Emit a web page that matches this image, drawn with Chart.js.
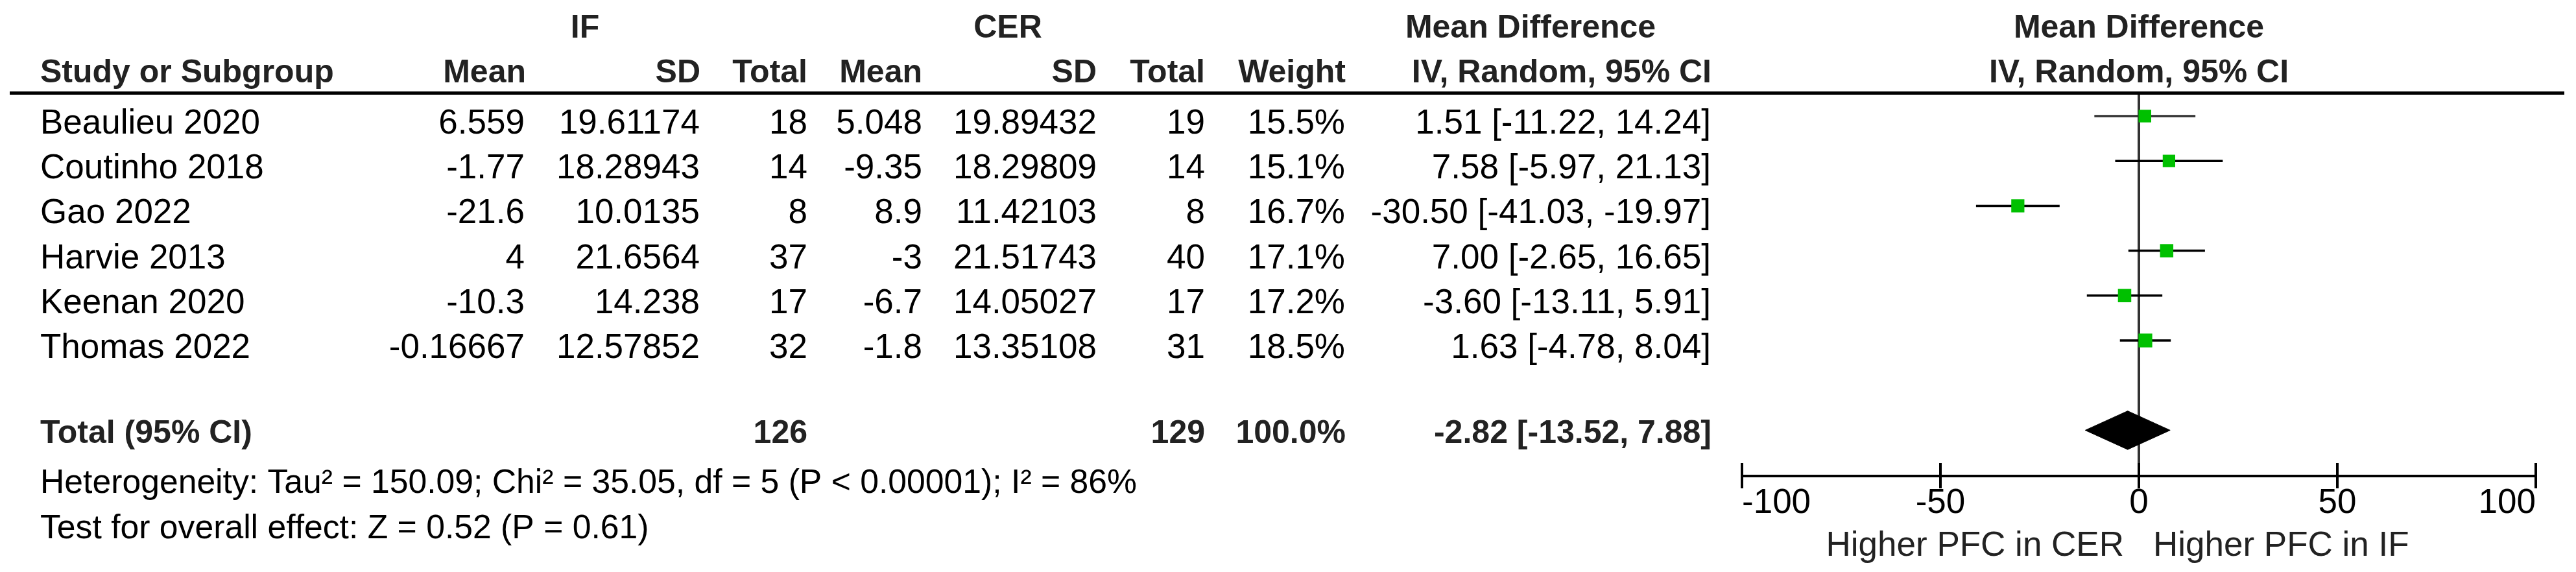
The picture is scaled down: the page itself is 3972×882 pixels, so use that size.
<!DOCTYPE html>
<html lang="en">
<head>
<meta charset="UTF-8" />
<title>Forest plot – IF vs CER</title>
<script src="https://cdn.jsdelivr.net/npm/chart.js"></script>
<style>
  html, body { margin: 0; padding: 0; background: #fff; }
  #wrap { width: 3972px; height: 882px; }
</style>
</head>
<body>
<div id="wrap"><canvas id="forest" width="3972" height="882"></canvas></div>
<script>
// study data
const studies = ["Beaulieu 2020", "Coutinho 2018", "Gao 2022", "Harvie 2013", "Keenan 2020", "Thomas 2022"];
const ifMean = [6.559, -1.77, -21.6, 4, -10.3, -0.16667];
const ifSD = [19.61174, 18.28943, 10.0135, 21.6564, 14.238, 12.57852];
const ifN = [18, 14, 8, 37, 17, 32];
const cerMean = [5.048, -9.35, 8.9, -3, -6.7, -1.8];
const cerSD = [19.89432, 18.29809, 11.42103, 21.51743, 14.05027, 13.35108];
const cerN = [19, 14, 8, 40, 17, 31];
const weights = [15.5, 15.1, 16.7, 17.1, 17.2, 18.5];
const md = [1.51, 7.58, -30.50, 7.00, -3.60, 1.63];
const ciLo = [-11.22, -5.97, -41.03, -2.65, -13.11, -4.78];
const ciHi = [14.24, 21.13, -19.97, 16.65, 5.91, 8.04];

// pooled result
const totalIfN = 126;
const totalCerN = 129;
const totalWeight = 100.0;
const totalMd = -2.82;
const totalLo = -13.52;
const totalHi = 7.88;
const totalRow = 7;

const xTicks = [-100, -50, 0, 50, 100];
const heterogeneity = "Heterogeneity: Tau² = 150.09; Chi² = 35.05, df = 5 (P < 0.00001); I² = 86%";
const overallTest = "Test for overall effect: Z = 0.52 (P = 0.61)";
const favoursLeft = "Higher PFC in CER";
const favoursRight = "Higher PFC in IF";

const REG = '53px "Liberation Sans"';
const NOTE = '51.7px "Liberation Sans"';
const BOLD = 'bold 50px "Liberation Sans"';
const HEAD = '#222';
const GREEN = '#00c000';
const DIAMOND_HALF = 0.43;

function text(ctx, s, x, y, align, font, color) {
  ctx.font = font;
  ctx.textAlign = align;
  ctx.textBaseline = "alphabetic";
  ctx.fillStyle = color;
  ctx.fillText(s, x, y);
}

const fmtCI = (m, lo, hi) => m.toFixed(2) + " [" + lo.toFixed(2) + ", " + hi.toFixed(2) + "]";

const tablePlugin = {
  id: "forestTable",
  afterDraw(chart) {
    const ctx = chart.ctx;
    const xs = chart.scales.x;
    const ys = chart.scales.y;
    const area = chart.chartArea;
    ctx.save();

    // rule under the headings
    ctx.fillStyle = "#000";
    ctx.fillRect(15, 141, 3939, 5);

    // tick marks also reach above the axis
    ctx.strokeStyle = "#000";
    ctx.lineWidth = 4;
    xTicks.forEach((v) => {
      const px = Math.round(xs.getPixelForValue(v));
      ctx.beginPath();
      ctx.moveTo(px, area.bottom - 20);
      ctx.lineTo(px, area.bottom);
      ctx.stroke();
    });

    // group headings
    const zero = xs.getPixelForValue(0);
    text(ctx, "IF", 902, 58, "center", BOLD, HEAD);
    text(ctx, "CER", 1554, 58, "center", BOLD, HEAD);
    text(ctx, "Mean Difference", 2360, 58, "center", BOLD, HEAD);
    text(ctx, "Mean Difference", zero, 58, "center", BOLD, HEAD);

    // column headings
    text(ctx, "Study or Subgroup", 62, 127, "left", BOLD, HEAD);
    text(ctx, "Mean", 811, 127, "right", BOLD, HEAD);
    text(ctx, "SD", 1080, 127, "right", BOLD, HEAD);
    text(ctx, "Total", 1245, 127, "right", BOLD, HEAD);
    text(ctx, "Mean", 1422, 127, "right", BOLD, HEAD);
    text(ctx, "SD", 1691, 127, "right", BOLD, HEAD);
    text(ctx, "Total", 1858, 127, "right", BOLD, HEAD);
    text(ctx, "Weight", 2075, 127, "right", BOLD, HEAD);
    text(ctx, "IV, Random, 95% CI", 2639, 127, "right", BOLD, HEAD);
    text(ctx, "IV, Random, 95% CI", zero, 127, "center", BOLD, HEAD);

    // study rows
    studies.forEach((s, i) => {
      const by = ys.getPixelForValue(i) + 27;
      text(ctx, s, 62, by, "left", REG, "#000");
      text(ctx, String(ifMean[i]), 809, by, "right", REG, "#000");
      text(ctx, String(ifSD[i]), 1079, by, "right", REG, "#000");
      text(ctx, String(ifN[i]), 1245, by, "right", REG, "#000");
      text(ctx, String(cerMean[i]), 1422, by, "right", REG, "#000");
      text(ctx, String(cerSD[i]), 1691, by, "right", REG, "#000");
      text(ctx, String(cerN[i]), 1858, by, "right", REG, "#000");
      text(ctx, weights[i].toFixed(1) + "%", 2074, by, "right", REG, "#000");
      text(ctx, fmtCI(md[i], ciLo[i], ciHi[i]), 2638, by, "right", REG, "#000");
    });

    // pooled row
    const ty = ys.getPixelForValue(totalRow) + 20;
    text(ctx, "Total (95% CI)", 62, ty, "left", BOLD, HEAD);
    text(ctx, String(totalIfN), 1245, ty, "right", BOLD, HEAD);
    text(ctx, String(totalCerN), 1858, ty, "right", BOLD, HEAD);
    text(ctx, totalWeight.toFixed(1) + "%", 2075, ty, "right", BOLD, HEAD);
    text(ctx, fmtCI(totalMd, totalLo, totalHi), 2639, ty, "right", BOLD, HEAD);

    // footnotes
    text(ctx, heterogeneity, 62, 760, "left", NOTE, "#000");
    text(ctx, overallTest, 62, 830, "left", NOTE, "#000");

    // favours labels
    text(ctx, favoursLeft, zero - 23, 857, "right", REG, HEAD);
    text(ctx, favoursRight, zero + 22, 857, "left", REG, HEAD);

    ctx.restore();
  }
};

const ciSets = studies.map((s, i) => ({
  type: "line",
  label: s,
  data: [{ x: ciLo[i], y: i }, { x: ciHi[i], y: i }],
  borderColor: i === 0 ? "#333" : "#000",
  borderWidth: 3.5,
  pointRadius: 0,
  fill: false,
  order: 3
}));

new Chart(document.getElementById("forest"), {
  type: "scatter",
  data: {
    datasets: [
      ...ciSets,
      {
        type: "scatter",
        label: "Mean difference",
        data: md.map((v, i) => ({ x: v, y: i })),
        pointStyle: "rect",
        pointRadius: (c) => 3.5 * Math.sqrt(weights[c.dataIndex]),
        pointHoverRadius: (c) => 3.5 * Math.sqrt(weights[c.dataIndex]),
        backgroundColor: GREEN,
        borderWidth: 0,
        order: 1
      },
      {
        type: "line",
        label: "Total upper",
        data: [
          { x: totalLo, y: totalRow },
          { x: totalMd, y: totalRow - DIAMOND_HALF },
          { x: totalHi, y: totalRow }
        ],
        borderColor: "#000",
        borderWidth: 1,
        pointRadius: 0,
        fill: false,
        order: 2
      },
      {
        type: "line",
        label: "Total lower",
        data: [
          { x: totalLo, y: totalRow },
          { x: totalMd, y: totalRow + DIAMOND_HALF },
          { x: totalHi, y: totalRow }
        ],
        borderColor: "#000",
        backgroundColor: "#000",
        borderWidth: 1,
        pointRadius: 0,
        fill: "-1",
        order: 2
      }
    ]
  },
  options: {
    responsive: false,
    devicePixelRatio: 1,
    animation: false,
    events: [],
    layout: { padding: { left: 2686, right: 62, top: 143, bottom: 0 } },
    plugins: {
      legend: { display: false },
      tooltip: { enabled: false }
    },
    scales: {
      x: {
        type: "linear",
        position: "bottom",
        min: -100,
        max: 100,
        afterBuildTicks: (scale) => {
          scale.ticks = xTicks.map((v) => ({ value: v }));
        },
        afterFit: (scale) => {
          scale.height = 148;
        },
        border: { display: true, color: "#000", width: 4 },
        grid: {
          drawOnChartArea: true,
          color: (c) => (c.tick && c.tick.value === 0 ? "#333" : "rgba(0,0,0,0)"),
          lineWidth: 4,
          tickColor: "#000",
          tickWidth: 4,
          tickLength: 19
        },
        ticks: {
          align: "inner",
          autoSkip: false,
          maxRotation: 0,
          padding: -3,
          color: "#000",
          font: { family: "Liberation Sans", size: 53, lineHeight: 1 }
        }
      },
      y: {
        type: "linear",
        display: false,
        reverse: true,
        min: -0.52,
        max: 8.02
      }
    }
  },
  plugins: [tablePlugin]
});
</script>
</body>
</html>
